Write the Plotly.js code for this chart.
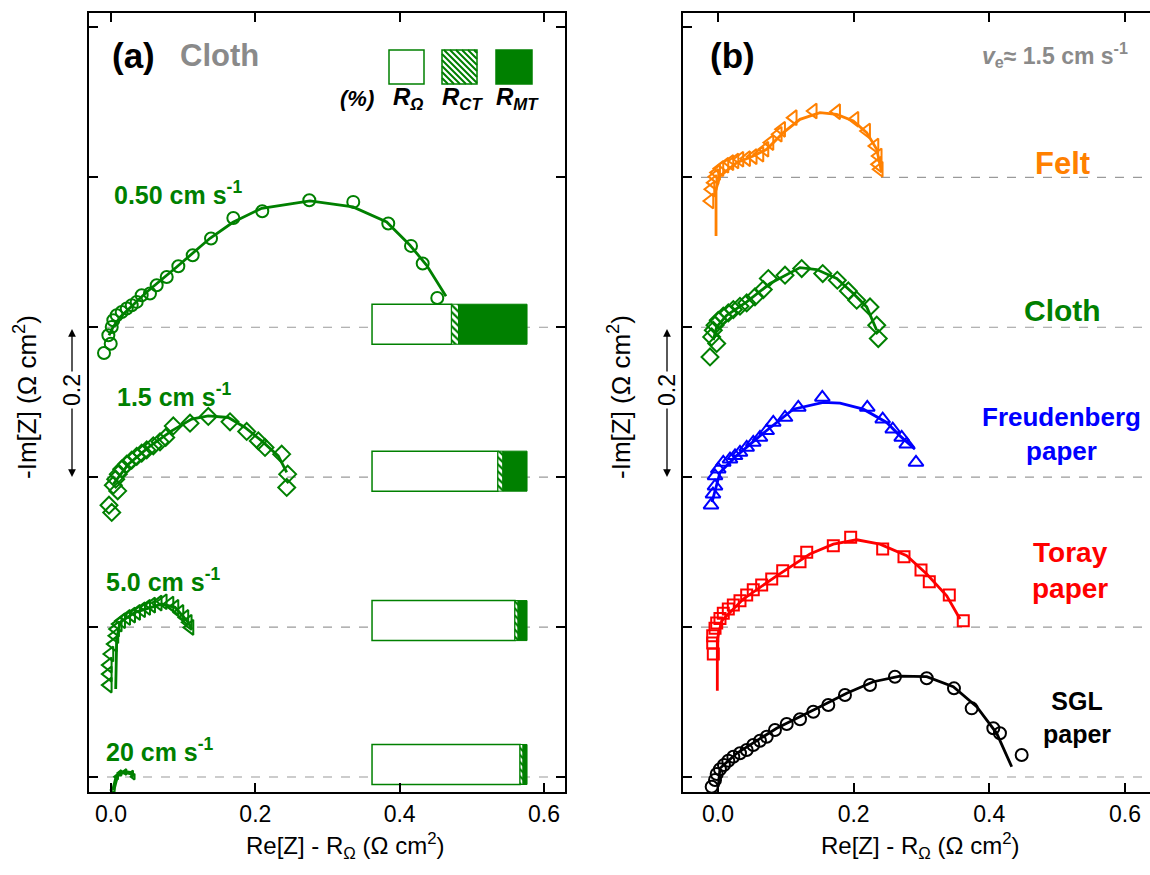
<!DOCTYPE html>
<html><head><meta charset="utf-8">
<script src="https://cdn.plot.ly/plotly-3.0.1.min.js"></script>
<style>html,body{margin:0;padding:0;background:#fff;overflow:hidden}#plot{width:1150px;height:875px}</style>
</head><body><div id="plot"></div>
<script>
// ---------------- DATA ----------------
// Panel (a): Cloth electrode at different electrolyte velocities (offset baselines)
const a050_x = [-0.0097,-0.0004,-0.0037,0.001,0.0032,0.0079,0.0148,0.0218,0.0287,0.0356,0.0425,0.054,0.0633,0.0772,0.0933,0.1132,0.1386,0.1695,0.2096,0.2748,0.3357,0.3842,0.4157,0.4319,0.4521];
const a050_y = [0.5657,0.578,0.5893,0.6004,0.6093,0.616,0.6204,0.625,0.6293,0.6338,0.6427,0.645,0.656,0.6671,0.6814,0.696,0.7183,0.7458,0.7547,0.7694,0.7672,0.7383,0.7085,0.685,0.6391];
const a050_fx = [-0.0028,0.0028,0.0125,0.0495,0.091,0.1372,0.169,0.2088,0.2757,0.3353,0.382,0.4143,0.4374,0.4642];
const a050_fy = [0.5893,0.6,0.6133,0.6471,0.6804,0.7187,0.74,0.7587,0.7685,0.7605,0.7405,0.7094,0.6827,0.6414];

const a15_x = [0.001,-0.0028,0.0093,0.0032,0.0065,0.0101,0.0148,0.0218,0.0287,0.0356,0.0425,0.0495,0.0586,0.0679,0.0758,0.0863,0.1095,0.1348,0.1649,0.188,0.2041,0.2134,0.2365,0.2448,0.2435];
const a15_y = [0.3529,0.3626,0.3817,0.3893,0.3973,0.404,0.4107,0.4173,0.4227,0.4276,0.432,0.4364,0.4418,0.4471,0.453,0.4684,0.472,0.481,0.4738,0.461,0.4484,0.4396,0.4307,0.404,0.3863];
const a15_fx = [0.0032,0.024,0.054,0.0841,0.1118,0.1348,0.1625,0.1857,0.2088,0.2318,0.2435];
const a15_fy = [0.3907,0.4173,0.4414,0.4618,0.4774,0.4818,0.4796,0.4663,0.4484,0.4284,0.4063];

const a50_x = [-0.0037,-0.0037,-0.0037,-0.0014,0.0032,0.0055,0.0065,0.0101,0.0148,0.0218,0.0287,0.0356,0.0425,0.0495,0.0564,0.0655,0.0725,0.0818,0.0887,0.0956,0.1025,0.1071,0.1095];
const a50_y = [0.1226,0.1373,0.1493,0.164,0.1773,0.1884,0.1973,0.204,0.2084,0.2129,0.216,0.2196,0.2231,0.2263,0.2293,0.232,0.2338,0.2307,0.2263,0.2196,0.2129,0.2063,0.1996];
const a50_fx = [0.0065,0.0079,0.0125,0.0333,0.0702,0.0887,0.1071,0.1118];
const a50_fy = [0.1173,0.184,0.2063,0.2196,0.2307,0.2263,0.2063,0.1973];

const a20_x = [0.0032,0.0079,0.0125,0.0194,0.0287,0.0309];
const a20_y = [-0.0173,0.0004,0.0053,0.0067,0.0049,0.0004];

// Resistance breakdown (%) for each velocity: 0.50, 1.5, 5.0, 20 cm/s
const velLabels = ['0.50 cm s<sup>-1</sup>','1.5 cm s<sup>-1</sup>','5.0 cm s<sup>-1</sup>','20 cm s<sup>-1</sup>'];
const pctROhm = [51.3, 81.2, 92.2, 95.5];
const pctRCT  = [4.5, 3.2, 2.0, 1.9];
const pctRMT  = [44.2, 15.6, 5.8, 2.6];
const barY    = [0.604, 0.408, 0.2087, 0.0167];

// Panel (b): different electrodes at ~1.5 cm/s
const felt_x = [-0.0118,-0.0103,-0.0069,-0.0044,-0.0019,0.0029,0.0103,0.0177,0.0251,0.0324,0.0423,0.052,0.0619,0.0693,0.0767,0.0889,0.0939,0.111,0.1405,0.175,0.202,0.2192,0.2315,0.2363,0.2354,0.2378];
const felt_y = [0.7684,0.784,0.7929,0.8009,0.8063,0.8116,0.816,0.8196,0.8217,0.824,0.8249,0.8276,0.8307,0.8374,0.8463,0.8574,0.864,0.8796,0.8884,0.8876,0.8774,0.8618,0.8418,0.8284,0.8173,0.8107];
const felt_fx = [-0.0029,-0.0029,0.0029,0.0276,0.052,0.0718,0.0963,0.1209,0.1504,0.175,0.1995,0.2192,0.234,0.2413];
const felt_fy = [0.7217,0.784,0.8017,0.8196,0.8284,0.8374,0.8596,0.8774,0.8863,0.884,0.8751,0.8596,0.8374,0.8063];

const cloth_x = [-0.0118,-0.0019,-0.0093,-0.0069,-0.0044,0.0004,0.0078,0.0152,0.0226,0.0324,0.0423,0.0545,0.0668,0.0742,0.0988,0.1234,0.1544,0.1759,0.1921,0.2045,0.2241,0.234,0.2363];
const cloth_y = [0.5604,0.5783,0.5871,0.596,0.6027,0.6093,0.6147,0.6191,0.6236,0.628,0.6324,0.6404,0.6503,0.665,0.6694,0.6783,0.6716,0.6627,0.6484,0.636,0.6271,0.6027,0.5849];
const cloth_fx = [-0.0069,-0.0019,0.0128,0.0423,0.0767,0.1209,0.1455,0.175,0.1995,0.2192,0.234];
const cloth_fy = [0.5827,0.6004,0.616,0.6338,0.6583,0.6796,0.677,0.665,0.645,0.6271,0.596];

const freu_x = [-0.0103,-0.0074,-0.0044,-0.0044,0.0004,0.0078,0.0177,0.0251,0.0324,0.0423,0.052,0.0619,0.0718,0.0815,0.0988,0.1184,0.1538,0.2201,0.2428,0.2576,0.2708,0.2782,0.2919];
const freu_y = [0.3626,0.3773,0.388,0.4017,0.4107,0.4196,0.424,0.4284,0.433,0.4396,0.4463,0.453,0.4618,0.473,0.4796,0.493,0.5063,0.493,0.4774,0.464,0.453,0.444,0.4196];
const freu_fx = [-0.0088,0.0029,0.0251,0.0619,0.111,0.1552,0.1799,0.2142,0.2487,0.2683,0.2904];
const freu_fy = [0.3666,0.4063,0.4267,0.4551,0.4907,0.4997,0.4987,0.4907,0.473,0.4551,0.4374];

const toray_x = [-0.0069,-0.0078,-0.0078,-0.0044,-0.0019,0.0029,0.0078,0.0152,0.0226,0.0324,0.0423,0.052,0.0644,0.0792,0.0954,0.1209,0.1308,0.17,0.1956,0.2428,0.2742,0.2993,0.3115,0.341,0.3616];
const toray_y = [0.164,0.1787,0.1884,0.1983,0.2053,0.2116,0.2183,0.224,0.2293,0.2351,0.2427,0.2498,0.256,0.264,0.2751,0.2871,0.2997,0.3085,0.3197,0.3041,0.2938,0.276,0.2604,0.2427,0.2084];
const toray_fx = [-0.001,-0.001,0.0055,0.0373,0.0865,0.1356,0.17,0.2045,0.2388,0.2782,0.3077,0.3372,0.3568];
const toray_fy = [0.115,0.184,0.2084,0.2374,0.2684,0.2974,0.3107,0.3165,0.3107,0.2951,0.2707,0.2418,0.2107];

const sgl_x = [-0.0093,-0.0044,-0.0019,0.0029,0.0088,0.0152,0.0226,0.0324,0.0423,0.052,0.0619,0.0718,0.084,0.1013,0.1209,0.1405,0.1626,0.1872,0.2241,0.2609,0.3077,0.3479,0.374,0.4059,0.4157,0.4477];
const sgl_y = [-0.0129,-0.004,0.004,0.0103,0.016,0.0217,0.0271,0.0316,0.036,0.0427,0.0484,0.0538,0.0627,0.0707,0.077,0.0871,0.0961,0.1094,0.1227,0.1338,0.1317,0.1183,0.0916,0.065,0.0583,0.0293];
const sgl_fx = [0.0004,0.0029,0.0276,0.0865,0.1504,0.1897,0.229,0.2683,0.3077,0.3469,0.3814,0.4109,0.433];
const sgl_fy = [-0.0129,0.0116,0.0316,0.065,0.0938,0.1117,0.1271,0.1347,0.1338,0.1205,0.0938,0.0583,0.0137];

const xTickVals = [0, 0.2, 0.4, 0.6];
const xTickText = ['0.0', '0.2', '0.4', '0.6'];
const yTickVals = [0, 0.2, 0.4, 0.6, 0.8, 1.0];
const baselinesA = [0, 0.2, 0.4, 0.6];
const baselinesB = [0, 0.2, 0.4, 0.6, 0.8];

// ---------------- STYLE / LAYOUT ----------------
const GREEN = '#008000', ORANGE = '#ff8000', BLUE = '#0000ff', RED = '#ff0000', BLACK = '#000000', GRAY = '#8a8a8a';
const FONT = 'Liberation Sans, Arial, sans-serif';
const NARROW = 'Liberation Sans Narrow, Arial Narrow, Liberation Sans, Arial, sans-serif';
const ML = 89, MR = 0, MT = 13, MB = 83, W = 1150, H = 875;
const PX = p => (p - ML) / (W - ML - MR);
const PY = p => (H - MB - p) / (H - MT - MB);

const barStart = 0.3617, barScale = 0.002148, barH = 0.0534;

function pts(x, y, col, sym, size, xa, ya) {
  return {type: 'scatter', mode: 'markers', x: x, y: y, xaxis: xa, yaxis: ya, showlegend: false, hoverinfo: 'skip',
    marker: {symbol: sym, size: size, color: col, line: {color: col, width: 2}}};
}
function fit(x, y, col, xa, ya, w) {
  return {type: 'scatter', mode: 'lines', x: x, y: y, xaxis: xa, yaxis: ya, showlegend: false, hoverinfo: 'skip',
    line: {color: col, width: w || 2.8}};
}

const baseCT = pctROhm.map(v => barStart + v * barScale);
const baseMT = pctROhm.map((v, i) => barStart + (v + pctRCT[i]) * barScale);

const traces = [
  {type: 'bar', orientation: 'h', y: barY, x: pctROhm.map(v => v * barScale), base: pctROhm.map(() => barStart), width: barH,
   xaxis: 'x', yaxis: 'y', showlegend: false, hoverinfo: 'skip', marker: {color: '#ffffff', line: {color: GREEN, width: 1.5}}},
  {type: 'bar', orientation: 'h', y: barY, x: pctRCT.map(v => v * barScale), base: baseCT, width: barH,
   xaxis: 'x', yaxis: 'y', showlegend: false, hoverinfo: 'skip',
   marker: {color: '#ffffff', line: {color: GREEN, width: 1}, pattern: {shape: '\\', fgcolor: GREEN, bgcolor: '#ffffff', size: 5, solidity: 0.45}}},
  {type: 'bar', orientation: 'h', y: barY, x: pctRMT.map(v => v * barScale), base: baseMT, width: barH,
   xaxis: 'x', yaxis: 'y', showlegend: false, hoverinfo: 'skip', marker: {color: GREEN, line: {color: GREEN, width: 1}}},

  fit(a050_fx, a050_fy, GREEN, 'x', 'y'), pts(a050_x, a050_y, GREEN, 'circle-open', 12, 'x', 'y'),
  fit(a15_fx, a15_fy, GREEN, 'x', 'y'), pts(a15_x, a15_y, GREEN, 'diamond-open', 13, 'x', 'y'),
  fit(a50_fx, a50_fy, GREEN, 'x', 'y'), pts(a50_x, a50_y, GREEN, 'triangle-left-open', 13, 'x', 'y'),
  fit(a20_x, a20_y, GREEN, 'x', 'y', 4), pts(a20_x, a20_y, GREEN, 'triangle-left-open', 5, 'x', 'y'),

  fit(felt_fx, felt_fy, ORANGE, 'x2', 'y2'), pts(felt_x, felt_y, ORANGE, 'triangle-left-open', 13, 'x2', 'y2'),
  fit(cloth_fx, cloth_fy, GREEN, 'x2', 'y2'), pts(cloth_x, cloth_y, GREEN, 'diamond-open', 13, 'x2', 'y2'),
  fit(freu_fx, freu_fy, BLUE, 'x2', 'y2'), pts(freu_x, freu_y, BLUE, 'triangle-up-open', 13, 'x2', 'y2'),
  fit(toray_fx, toray_fy, RED, 'x2', 'y2'), pts(toray_x, toray_y, RED, 'square-open', 11, 'x2', 'y2'),
  fit(sgl_fx, sgl_fy, BLACK, 'x2', 'y2'), pts(sgl_x, sgl_y, BLACK, 'circle-open', 12, 'x2', 'y2')
];

// shapes: baselines + legend swatches
const shapes = [];
baselinesA.forEach(v => shapes.push({type: 'line', xref: 'x domain', yref: 'y', x0: 0, x1: 1, y0: v, y1: v, layer: 'below', line: {color: '#9a9a9a', width: 1.2, dash: 'dash'}}));
baselinesB.forEach(v => shapes.push({type: 'line', xref: 'x2 domain', yref: 'y2', x0: 0, x1: 1, y0: v, y1: v, layer: 'below', line: {color: '#9a9a9a', width: 1.2, dash: 'dash'}}));
function rectPx(x0, y0, x1, y1, fill) {
  return {type: 'rect', xref: 'paper', yref: 'paper', x0: PX(x0), x1: PX(x1), y0: PY(y1), y1: PY(y0), fillcolor: fill, line: {color: GREEN, width: 1.5}};
}
shapes.push(rectPx(389, 50, 424, 84, '#ffffff'));
shapes.push(rectPx(442, 50, 477, 84, '#ffffff'));
shapes.push(rectPx(496, 50, 532, 84, GREEN));
// hatch lines for the R_CT swatch
(function () {
  const x0 = 442, x1 = 477, y0 = 50, y1 = 84;
  let path = '';
  for (let c = x0 - y1; c <= x1 - y0; c += 6) {
    const sx = Math.max(x0, y0 + c), ex = Math.min(x1, y1 + c);
    if (ex - sx < 1) continue;
    path += 'M' + PX(sx) + ',' + PY(sx - c) + 'L' + PX(ex) + ',' + PY(ex - c);
  }
  shapes.push({type: 'path', xref: 'paper', yref: 'paper', path: path, line: {color: GREEN, width: 2}});
})();

function ann(text, x, y, size, color, opts) {
  return Object.assign({text: text, x: x, y: y, xref: 'paper', yref: 'paper', showarrow: false,
    font: {family: FONT, size: size, color: color}, xanchor: 'center', yanchor: 'middle'}, opts || {});
}
const velY = [193, 395, 580, 750], velX = [112, 115, 104, 104];
const annotations = [
  ann('<b>(a)</b>', PX(110), PY(55), 35, BLACK, {xanchor: 'left'}),
  ann('<b>Cloth</b>', PX(178), PY(55), 31, GRAY, {xanchor: 'left'}),
  ann('<b><i>(%)</i></b>', PX(357), PY(98), 22, BLACK),
  ann('<b><i>R<sub>Ω</sub></i></b>', PX(408), PY(98), 24, BLACK),
  ann('<b><i>R<sub>CT</sub></i></b>', PX(462), PY(98), 24, BLACK),
  ann('<b><i>R<sub>MT</sub></i></b>', PX(517), PY(98), 24, BLACK),
  ann('<b>(b)</b>', PX(708), PY(55), 35, BLACK, {xanchor: 'left'}),
  ann('<b><i>v</i><sub>e</sub>≈ 1.5 cm s<sup>-1</sup></b>', PX(1130), PY(55), 23, GRAY, {xanchor: 'right'}),
  ann('<b>Felt</b>', PX(1062), PY(163), 31, ORANGE),
  ann('<b>Cloth</b>', PX(1062), PY(310), 30, GREEN),
  ann('<b>Freudenberg<br>paper</b>', PX(1061), PY(434), 26, BLUE),
  ann('<b>Toray<br>paper</b>', PX(1070), PY(570), 28, RED),
  ann('<b>SGL<br>paper</b>', PX(1077), PY(717), 25, BLACK),
  // axis titles
  ann('-Im[Z] (Ω cm<sup>2</sup>)', PX(25), PY(397), 26, BLACK, {textangle: -90, font: {family: NARROW, size: 26, color: BLACK}}),
  ann('-Im[Z] (Ω cm<sup>2</sup>)', PX(619), PY(397), 26, BLACK, {textangle: -90, font: {family: NARROW, size: 26, color: BLACK}}),
  ann('Re[Z] - R<sub>Ω</sub> (Ω cm<sup>2</sup>)', PX(345), PY(846), 24, BLACK, {font: {family: NARROW, size: 24, color: BLACK}}),
  ann('Re[Z] - R<sub>Ω</sub> (Ω cm<sup>2</sup>)', PX(920), PY(846), 24, BLACK, {font: {family: NARROW, size: 24, color: BLACK}})
];
velLabels.forEach((t, i) => annotations.push(ann('<b>' + t + '</b>', PX(velX[i]), PY(velY[i]), 25, GREEN, {xanchor: 'left'})));
// "0.2" scale arrows
[72, 667].forEach(xp => {
  annotations.push(ann('0.2', PX(xp), PY(390), 23, BLACK, {textangle: -90, font: {family: NARROW, size: 23, color: BLACK}}));
  annotations.push({text: '', x: PX(xp), y: PY(329), xref: 'paper', yref: 'paper', showarrow: true, ax: 0, ay: 44,
    arrowhead: 2, arrowsize: 1.2, arrowwidth: 1.3, arrowcolor: BLACK});
  annotations.push({text: '', x: PX(xp), y: PY(477), xref: 'paper', yref: 'paper', showarrow: true, ax: 0, ay: -70,
    arrowhead: 2, arrowsize: 1.2, arrowwidth: 1.3, arrowcolor: BLACK});
});

const xCommon = {tickvals: xTickVals, ticktext: xTickText, ticks: 'inside', ticklen: 9, tickwidth: 2, tickcolor: BLACK,
  showline: true, linewidth: 2, linecolor: BLACK, showgrid: false, zeroline: false,
  tickfont: {family: NARROW, size: 23, color: BLACK}};
const yCommon = {tickvals: yTickVals, showticklabels: false, ticks: 'inside', ticklen: 9, tickwidth: 2, tickcolor: BLACK,
  showline: true, linewidth: 2, linecolor: BLACK, showgrid: false, zeroline: false, range: [-0.02, 1.0192]};

const layout = {
  width: W, height: H, margin: {l: ML, r: MR, t: MT, b: MB}, paper_bgcolor: '#ffffff', plot_bgcolor: '#ffffff',
  showlegend: false, barmode: 'overlay',
  xaxis: Object.assign({}, xCommon, {domain: [0, PX(565)], range: [-0.0305, 0.6291], mirror: 'ticks', anchor: 'y'}),
  yaxis: Object.assign({}, yCommon, {domain: [0, 1], mirror: 'ticks', anchor: 'x'}),
  xaxis2: Object.assign({}, xCommon, {domain: [PX(683), 1], range: [-0.0516, 0.6369], mirror: 'ticks', anchor: 'y2'}),
  yaxis2: Object.assign({}, yCommon, {domain: [0, 1], mirror: false, anchor: 'x2'}),
  shapes: shapes, annotations: annotations
};
Plotly.newPlot('plot', traces, layout, {displayModeBar: false, staticPlot: true});
</script></body></html>
